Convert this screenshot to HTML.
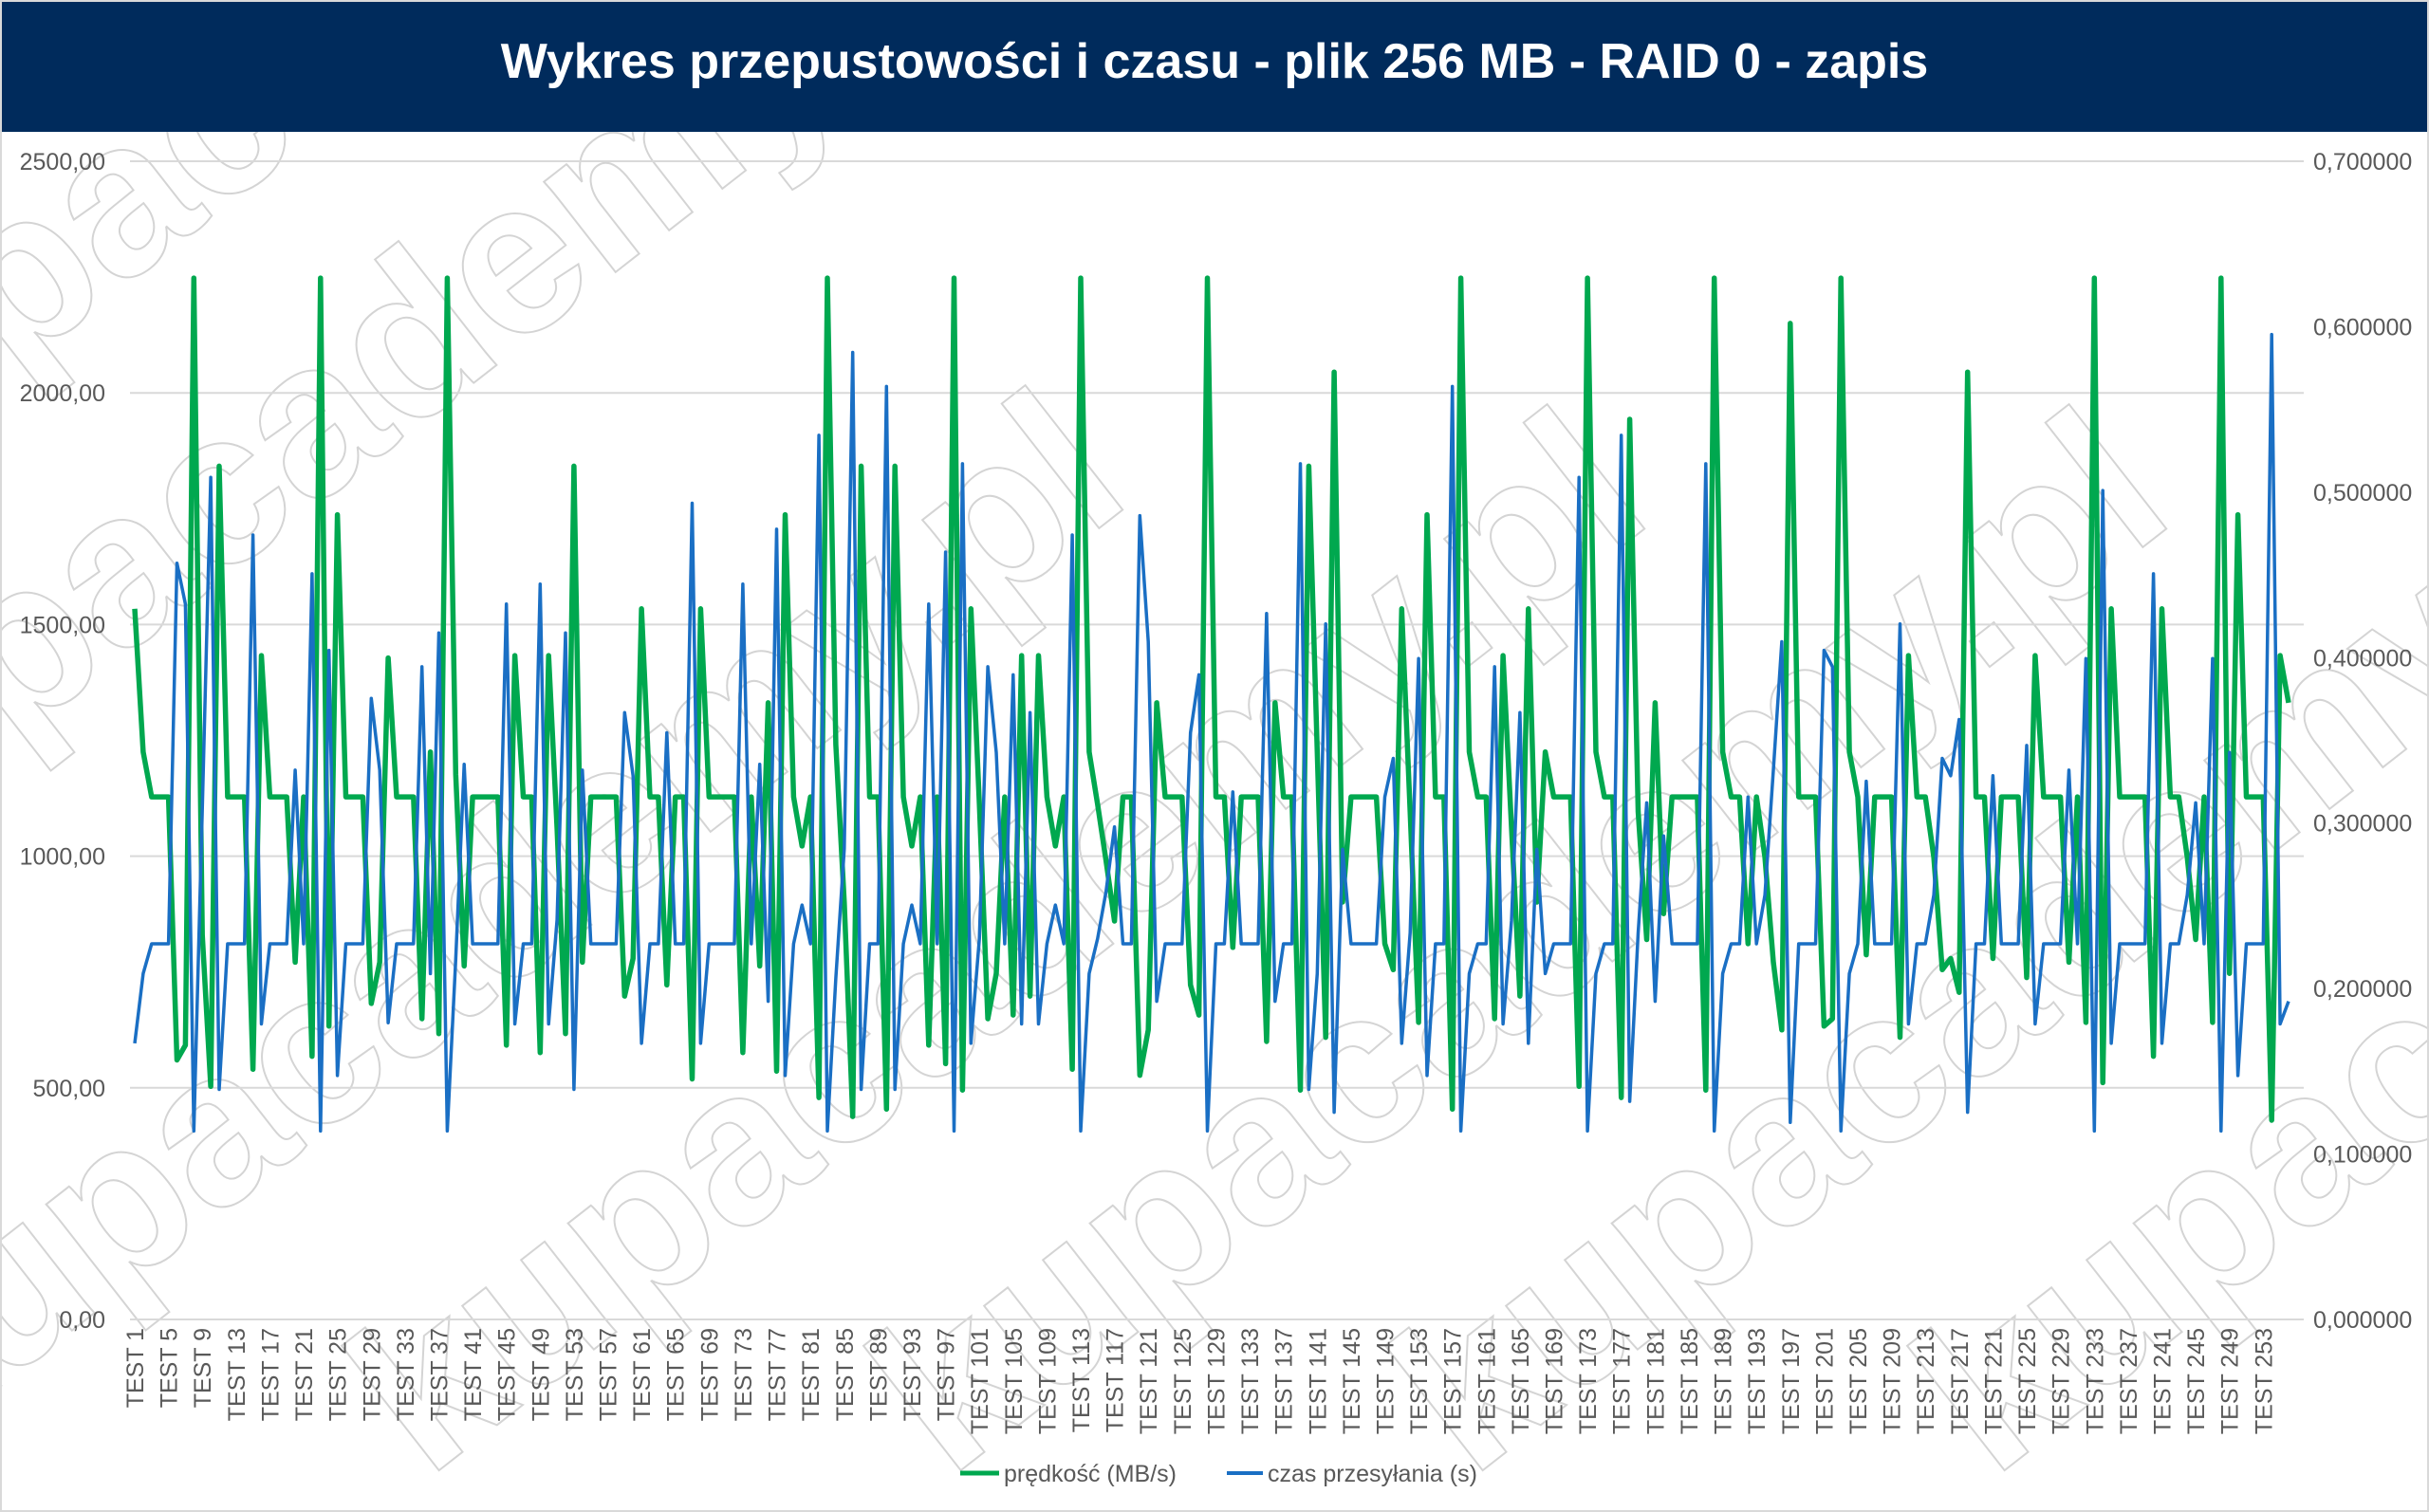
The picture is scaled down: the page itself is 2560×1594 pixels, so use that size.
<!DOCTYPE html>
<html><head><meta charset="utf-8"><style>
html,body{margin:0;padding:0;background:#fff;overflow:hidden;width:2560px;height:1594px}
svg{display:block}
</style></head><body>
<svg id="chart" width="2560" height="1594" viewBox="0 0 2560 1594" xmlns="http://www.w3.org/2000/svg" font-family="'Liberation Sans', sans-serif" overflow="hidden">
<defs><clipPath id="wmclip"><rect x="0" y="139" width="2560" height="1455"/></clipPath></defs>
<rect x="0" y="0" width="2560" height="1594" fill="#fff"/>
<g id="watermark" clip-path="url(#wmclip)" fill="none" stroke="#d4d4d4" stroke-width="2" font-size="230" font-weight="bold"></g>
<rect x="0" y="0" width="2560" height="139" fill="#002b5c"/>
<text x="1280" y="82" text-anchor="middle" font-size="52" font-weight="bold" fill="#fff">Wykres przepustowości i czasu - plik 256 MB - RAID 0 - zapis</text>
<g id="grid"></g>
<g id="yLeft"></g>
<g id="yRight"></g>
<g id="xAxis"></g>
<g id="series"></g>
<g>
<line x1="1012" y1="1553" x2="1053" y2="1553" stroke="#00a84f" stroke-width="5"/>
<text x="1058" y="1562" font-size="25" fill="#595959">prędkość (MB/s)</text>
<line x1="1293" y1="1553" x2="1331" y2="1553" stroke="#1a6fc4" stroke-width="4"/>
<text x="1336" y="1562" font-size="25" fill="#595959">czas przesyłania (s)</text>
</g>
<rect x="1" y="1" width="2558" height="1592" fill="none" stroke="#d9d9d9" stroke-width="2"/>
</svg>
<script>
const speedValues = [1534,1225,1128,1128,1128,560,592,2248,830,503,1842,1128,1128,1128,540,1433,1128,1128,1128,771,1128,568,2248,633,1737,1128,1128,1128,682,771,1428,1128,1128,1128,649,1225,617,2248,1177,763,1128,1128,1128,1128,592,1433,1128,1128,576,1433,1060,617,1842,771,1128,1128,1128,1128,698,779,1534,1128,1128,722,1128,1128,519,1534,1128,1128,1128,1128,576,1128,763,1331,536,1737,1128,1022,1128,479,2248,1241,900,438,1842,1128,1128,454,1842,1128,1022,1128,592,1128,552,2248,495,1534,1112,649,747,1128,657,1433,698,1433,1128,1022,1128,540,2248,1225,1112,990,860,1128,1128,527,625,1331,1128,1128,1128,722,657,2248,1128,1128,803,1128,1128,1128,600,1331,1128,1128,495,1842,1225,609,2045,901,1128,1128,1128,1128,811,755,1534,1096,641,1737,1128,1128,454,2248,1225,1128,1128,649,1433,1063,698,1534,901,1225,1128,1128,1128,503,2248,1225,1128,1128,479,1943,1096,820,1331,876,1128,1128,1128,1128,495,2248,1225,1128,1128,811,1128,998,771,625,2150,1128,1128,1128,633,649,2248,1225,1128,787,1128,1128,1128,609,1433,1128,1128,998,755,779,706,2045,1128,1128,779,1128,1128,1128,738,1433,1128,1128,1128,771,1128,641,2248,511,1534,1128,1128,1128,1128,568,1534,1128,1128,998,820,1128,641,2248,747,1737,1128,1128,1128,430,1433,1331];
const timeValues = [0.1669,0.2090,0.2270,0.2270,0.2270,0.4571,0.4324,0.1139,0.3084,0.5089,0.1390,0.2270,0.2270,0.2270,0.4741,0.1786,0.2270,0.2270,0.2270,0.3320,0.2270,0.4507,0.1139,0.4044,0.1474,0.2270,0.2270,0.2270,0.3754,0.3320,0.1793,0.2270,0.2270,0.2270,0.3945,0.2090,0.4149,0.1139,0.2175,0.3355,0.2270,0.2270,0.2270,0.2270,0.4324,0.1786,0.2270,0.2270,0.4444,0.1786,0.2415,0.4149,0.1390,0.3320,0.2270,0.2270,0.2270,0.2270,0.3668,0.3286,0.1669,0.2270,0.2270,0.3546,0.2270,0.2270,0.4933,0.1669,0.2270,0.2270,0.2270,0.2270,0.4444,0.2270,0.3355,0.1923,0.4776,0.1474,0.2270,0.2505,0.2270,0.5344,0.1139,0.2063,0.2844,0.5845,0.1390,0.2270,0.2270,0.5639,0.1390,0.2270,0.2505,0.2270,0.4324,0.2270,0.4638,0.1139,0.5172,0.1669,0.2302,0.3945,0.3427,0.2270,0.3896,0.1786,0.3668,0.1786,0.2270,0.2505,0.2270,0.4741,0.1139,0.2090,0.2302,0.2586,0.2977,0.2270,0.2270,0.4858,0.4096,0.1923,0.2270,0.2270,0.2270,0.3546,0.3896,0.1139,0.2270,0.2270,0.3188,0.2270,0.2270,0.2270,0.4267,0.1923,0.2270,0.2270,0.5172,0.1390,0.2090,0.4204,0.1252,0.2841,0.2270,0.2270,0.2270,0.2270,0.3157,0.3391,0.1669,0.2336,0.3994,0.1474,0.2270,0.2270,0.5639,0.1139,0.2090,0.2270,0.2270,0.3945,0.1786,0.2408,0.3668,0.1669,0.2841,0.2090,0.2270,0.2270,0.2270,0.5089,0.1139,0.2090,0.2270,0.2270,0.5344,0.1318,0.2336,0.3122,0.1923,0.2922,0.2270,0.2270,0.2270,0.2270,0.5172,0.1139,0.2090,0.2270,0.2270,0.3157,0.2270,0.2565,0.3320,0.4096,0.1191,0.2270,0.2270,0.2270,0.4044,0.3945,0.1139,0.2090,0.2270,0.3253,0.2270,0.2270,0.2270,0.4204,0.1786,0.2270,0.2270,0.2565,0.3391,0.3286,0.3626,0.1252,0.2270,0.2270,0.3286,0.2270,0.2270,0.2270,0.3469,0.1786,0.2270,0.2270,0.2270,0.3320,0.2270,0.3994,0.1139,0.5010,0.1669,0.2270,0.2270,0.2270,0.2270,0.4507,0.1669,0.2270,0.2270,0.2565,0.3122,0.2270,0.3994,0.1139,0.3427,0.1474,0.2270,0.2270,0.2270,0.5953,0.1786,0.1923];
const leftTicks = [0,500,1000,1500,2000,2500];
const leftTickLabels = ["0,00","500,00","1000,00","1500,00","2000,00","2500,00"];
const rightTicks = [0,0.1,0.2,0.3,0.4,0.5,0.6,0.7];
const rightTickLabels = ["0,000000","0,100000","0,200000","0,300000","0,400000","0,500000","0,600000","0,700000"];
const categories = speedValues.map((_, i) => "TEST " + (i + 1));

const NS = "http://www.w3.org/2000/svg";
const X0 = 142, X1 = 2412, YB = 1391, YT = 170;
function xPos(i){ return X0 + (X1 - X0) * i / (categories.length - 1); }
function yLeft(v){ return YB - (YB - YT) * v / 2500; }
function yRight(v){ return YB - (YB - YT) * v / 0.7; }
function mk(tag, attrs, parent){ const e = document.createElementNS(NS, tag); for (const k in attrs) e.setAttribute(k, attrs[k]); parent.appendChild(e); return e; }

const wm = document.getElementById('watermark');
const wmPos = [[-100,1540],[450,1560],[1000,1560],[1550,1560],[2100,1560],[-200,950],[-200,560]];
wmPos.forEach((p) => {
  const t = mk('text', {x: p[0], y: p[1], transform: 'rotate(-38 ' + p[0] + ' ' + p[1] + ')'}, wm);
  t.textContent = 'kupacademy.pl';
  
  
});

const grid = document.getElementById('grid');
const yl = document.getElementById('yLeft');
leftTicks.forEach((v, k) => {
  const l = mk('line', {x1: 137, x2: 2428, y1: yLeft(v), y2: yLeft(v), stroke: '#d9d9d9', 'stroke-width': 2}, grid);
  
  
  const t = mk('text', {x: 111, y: yLeft(v) + 9, 'text-anchor': 'end', 'font-size': 25, fill: '#595959'}, yl);
  t.textContent = leftTickLabels[k];
  
  
});
const yr = document.getElementById('yRight');
rightTicks.forEach((v, k) => {
  const t = mk('text', {x: 2438, y: yRight(v) + 9, 'font-size': 25, fill: '#595959'}, yr);
  t.textContent = rightTickLabels[k];
  
  
});
const xa = document.getElementById('xAxis');
categories.forEach((c, i) => {
  if (i % 4 !== 0) return;
  const x = xPos(i) + 9, y = 1400;
  const t = mk('text', {x: x, y: y, 'text-anchor': 'end', 'font-size': 25, fill: '#595959', transform: 'rotate(-90 ' + x + ' ' + y + ')'}, xa);
  t.textContent = c;
  
  
});
const sg = document.getElementById('series');
const sp = mk('polyline', {points: speedValues.map((v, i) => xPos(i).toFixed(1) + ',' + yLeft(v).toFixed(1)).join(' '), fill: 'none', stroke: '#00a84f', 'stroke-width': 5.5, 'stroke-linejoin': 'round'}, sg);


const tl = mk('polyline', {points: timeValues.map((v, i) => xPos(i).toFixed(1) + ',' + yRight(v).toFixed(1)).join(' '), fill: 'none', stroke: '#1a6fc4', 'stroke-width': 3.5, 'stroke-linejoin': 'round'}, sg);


</script>
</body></html>
